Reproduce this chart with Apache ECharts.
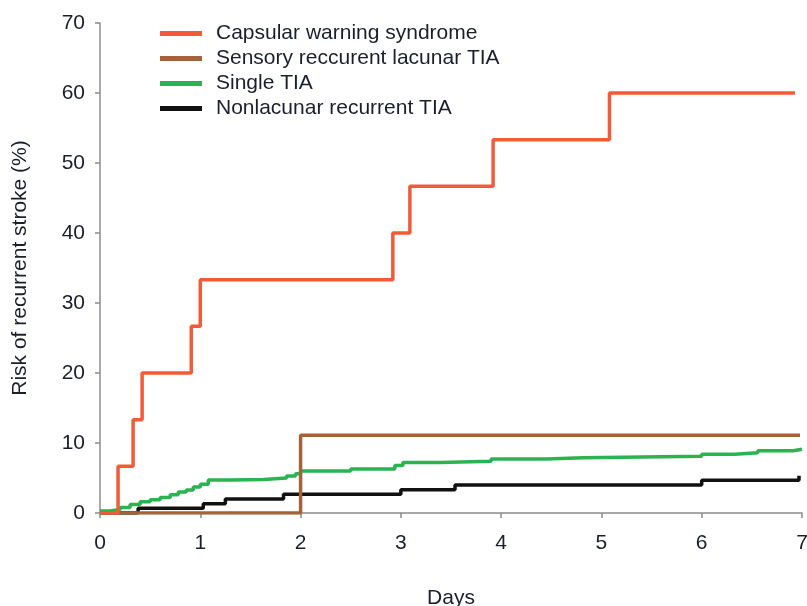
<!DOCTYPE html>
<html>
<head>
<meta charset="utf-8">
<script src="https://cdn.jsdelivr.net/npm/echarts@6/dist/echarts.min.js"></script>
<style>
  html, body { margin: 0; padding: 0; background: #fff; }
  #chart { width: 807px; height: 606px; }
</style>
</head>
<body>
<div id="chart"></div>
<script>
// series names
const seriesNames = ['Capsular warning syndrome', 'Sensory reccurent lacunar TIA', 'Single TIA', 'Nonlacunar recurrent TIA'];

// Capsular warning syndrome
const capsularDays = [0, 0.18, 0.33, 0.42, 0.91, 1.0, 2.92, 3.09, 3.92, 5.08, 6.93];
const capsularRisk = [0, 6.67, 13.33, 20, 26.67, 33.33, 40, 46.67, 53.33, 60, 60];

// Sensory reccurent lacunar TIA
const sensoryDays = [0, 2.0, 6.98];
const sensoryRisk = [0, 11.1, 11.1];

// Single TIA
const singleDays = [0, 0.1, 0.2, 0.3, 0.4, 0.5, 0.6, 0.7, 0.78, 0.86, 0.93, 1.0, 1.08, 1.3, 1.63, 1.86, 1.95, 2.0, 2.5, 2.94, 3.02, 3.39, 3.9, 4.45, 4.82, 6.0, 6.33, 6.56, 6.91, 7.0];
const singleRisk = [0.3, 0.5, 0.8, 1.2, 1.6, 1.9, 2.2, 2.6, 3.0, 3.3, 3.7, 4.1, 4.7, 4.8, 5.0, 5.3, 5.6, 6.0, 6.3, 6.8, 7.2, 7.4, 7.7, 7.9, 8.1, 8.4, 8.6, 8.9, 9.1, 9.1];

// Nonlacunar recurrent TIA
const nonlacunarDays = [0, 0.38, 1.03, 1.25, 1.83, 3.0, 3.54, 6.0, 6.97];
const nonlacunarRisk = [0, 0.67, 1.33, 2.0, 2.67, 3.33, 4.0, 4.67, 5.33];

// axis ticks
const dayTicks = [0, 1, 2, 3, 4, 5, 6, 7];
const riskTicks = [0, 10, 20, 30, 40, 50, 60, 70];

const colors = ['#f35a38', '#a2633b', '#2bb34f', '#111111'];

function pairs(xs, ys) {
  return xs.map((x, i) => [x, ys[i]]);
}

let myChart = echarts.init(document.getElementById('chart'));

const axisFont = { fontFamily: 'Liberation Sans', fontSize: 21, color: '#1a1f2b' };

let series = [
  [capsularDays, capsularRisk],
  [sensoryDays, sensoryRisk],
  [singleDays, singleRisk],
  [nonlacunarDays, nonlacunarRisk]
].map((d, i) => ({
  name: seriesNames[i],
  type: 'line',
  step: 'end',
  showSymbol: false,
  symbol: 'none',
  z: 10 - i,
  lineStyle: { color: colors[i], width: 3.5 },
  itemStyle: { color: colors[i] },
  data: pairs(d[0], d[1])
}));

myChart.setOption({
  animation: false,
  grid: { left: 100, right: 5, top: 23, bottom: 93, outerBoundsMode: 'none', containLabel: false },
  legend: {
    orient: 'vertical',
    left: 155,
    top: 18,
    icon: 'rect',
    itemWidth: 42,
    itemHeight: 5,
    itemGap: 4,
    textStyle: { fontFamily: 'Liberation Sans', fontSize: 21, color: '#1a1f2b', padding: [0, 0, 0, 9] },
    data: seriesNames
  },
  xAxis: {
    type: 'value',
    min: dayTicks[0],
    max: dayTicks[dayTicks.length - 1],
    interval: 1,
    name: 'Days',
    nameLocation: 'middle',
    nameGap: 75,
    nameTextStyle: axisFont,
    axisLine: { lineStyle: { color: '#8c8c8c', width: 1.5 } },
    axisTick: { show: true, length: 5, lineStyle: { color: '#8c8c8c', width: 1.5 } },
    axisLabel: Object.assign({ margin: 20 }, axisFont),
    splitLine: { show: false }
  },
  yAxis: {
    type: 'value',
    min: riskTicks[0],
    max: riskTicks[riskTicks.length - 1],
    interval: 10,
    name: 'Risk of recurrent stroke (%)',
    nameLocation: 'middle',
    nameGap: 69,
    nameTextStyle: axisFont,
    axisLine: { show: true, lineStyle: { color: '#8c8c8c', width: 1.5 } },
    axisTick: { show: true, length: 5, lineStyle: { color: '#8c8c8c', width: 1.5 } },
    axisLabel: Object.assign({ margin: 15 }, axisFont),
    splitLine: { show: false }
  },
  series: series
});
</script>
</body>
</html>
